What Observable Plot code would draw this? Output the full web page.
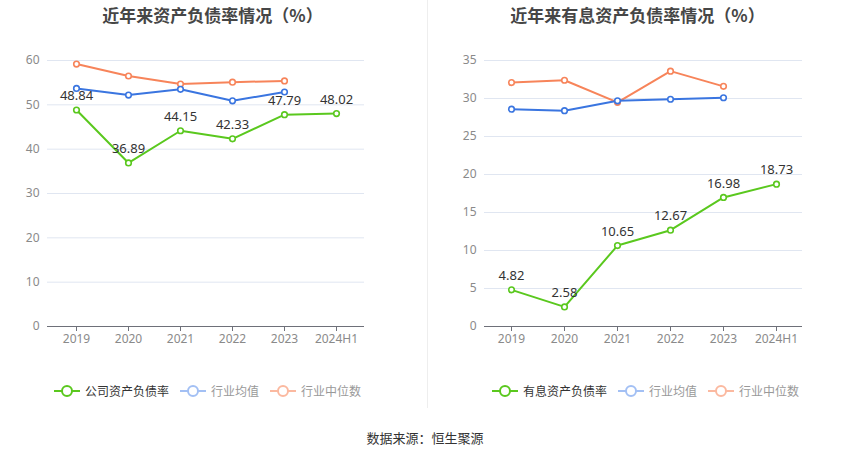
<!DOCTYPE html>
<html><head><meta charset="utf-8">
<script src="https://cdn.jsdelivr.net/npm/d3@7"></script>
<script src="https://cdn.jsdelivr.net/npm/@observablehq/plot@0.6"></script>
<style>
body{margin:0;background:#fff;font-family:"Noto Sans CJK SC","Noto Sans",sans-serif;}
#wrap{position:relative;width:850px;height:459px;overflow:hidden;}
.title{position:absolute;top:2px;font-size:17px;font-weight:bold;color:#464646;text-align:center;width:425px;}
.legend{position:absolute;top:382px;font-size:12px;display:flex;align-items:center;gap:11px;}
.legend .it{display:flex;align-items:center;gap:5px;}
.chart{position:absolute;top:0;}
#src{position:absolute;top:428px;width:850px;text-align:center;font-size:13px;color:#333;}
#div{position:absolute;left:427px;top:0;width:1px;height:408px;background:#eee;}
</style></head>
<body><div id="wrap">
<div class="title" style="left:0">近年来资产负债率情况（%）</div>
<div class="title" style="left:425px">近年来有息资产负债率情况（%）</div>
<div id="div"></div>
<div id="c1" class="chart" style="left:0"></div>
<div id="c2" class="chart" style="left:427px"></div>
<div id="l1" class="legend" style="left:54px"></div>
<div id="l2" class="legend" style="left:492px"></div>
<div id="src">数据来源：恒生聚源</div>
</div>
<script>
const years = ["2019","2020","2021","2022","2023","2024H1"];
const companyDebt = [48.84, 36.89, 44.15, 42.33, 47.79, 48.02];
const industryAvg1 = [53.7, 52.2, 53.5, 50.9, 52.9, null];
const industryMed1 = [59.2, 56.5, 54.7, 55.1, 55.4, null];
const interestDebt = [4.82, 2.58, 10.65, 12.67, 16.98, 18.73];
const industryAvg2 = [28.6, 28.4, 29.7, 29.9, 30.1, null];
const industryMed2 = [32.1, 32.4, 29.5, 33.6, 31.6, null];
const yTicks1 = [0,10,20,30,40,50,60];
const yTicks2 = [0,5,10,15,20,25,30,35];
const legend1 = ["公司资产负债率","行业均值","行业中位数"];
const legend2 = ["有息资产负债率","行业均值","行业中位数"];

const GREEN="#5ac81e", BLUE="#3a75e0", ORANGE="#f7845a";

function rows(vals){return years.map((y,i)=>({x:y,y:vals[i]})).filter(d=>d.y!=null);}

function chart(main, avg, med, ticks, ymax, ml, mr, w){
  const series=[[med,ORANGE],[avg,BLUE]];
  const marks=[
    Plot.gridY(ticks,{stroke:"#e0e6f1",strokeOpacity:1}),
    Plot.axisY(ticks,{tickSize:0,tickPadding:8,fontSize:12,fill:"#8a8a8a"}),
    Plot.ruleY([0],{stroke:"#6e7079"}),
    Plot.axisX({tickSize:5,stroke:"#6e7079",fontSize:12,fill:"#8a8a8a",tickPadding:3}),
  ];
  for(const [v,c] of series){
    marks.push(Plot.line(rows(v),{x:"x",y:"y",stroke:c,strokeWidth:2}));
    marks.push(Plot.dot(rows(v),{x:"x",y:"y",r:2.8,fill:"#fff",stroke:c,strokeWidth:1.6}));
  }
  marks.push(Plot.line(rows(main),{x:"x",y:"y",stroke:GREEN,strokeWidth:2}));
  marks.push(Plot.dot(rows(main),{x:"x",y:"y",r:2.8,fill:"#fff",stroke:GREEN,strokeWidth:1.6}));
  marks.push(Plot.text(rows(main),{x:"x",y:"y",text:d=>d.y.toFixed(2),dy:-14,fontSize:13,fill:"#333"}));
  return Plot.plot({
    width:w,height:350,marginTop:60,marginBottom:24,marginLeft:ml,marginRight:mr,
    style:{fontFamily:"'Noto Sans','Noto Sans CJK SC',sans-serif",background:"transparent"},
    x:{type:"point",domain:years,padding:0.5,label:null},
    y:{domain:[0,ymax],label:null},
    marks
  });
}
document.getElementById("c1").append(chart(companyDebt,industryAvg1,industryMed1,yTicks1,60,47,61,425));
document.getElementById("c2").append(chart(interestDebt,industryAvg2,industryMed2,yTicks2,35,57,48,423));

function legend(el,names){
  const cols=[[GREEN,"#333"],["#a3c0f4","#999"],["#fbb9a0","#999"]];
  el.innerHTML=names.map((n,i)=>`<span class="it"><svg width="26" height="14"><line x1="0" y1="7" x2="26" y2="7" stroke="${cols[i][0]}" stroke-width="2"/><circle cx="13" cy="7" r="5" fill="#fff" stroke="${cols[i][0]}" stroke-width="2"/></svg><span style="color:${cols[i][1]}">${n}</span></span>`).join("");
}
legend(document.getElementById("l1"),legend1);
legend(document.getElementById("l2"),legend2);
</script>
</body></html>
